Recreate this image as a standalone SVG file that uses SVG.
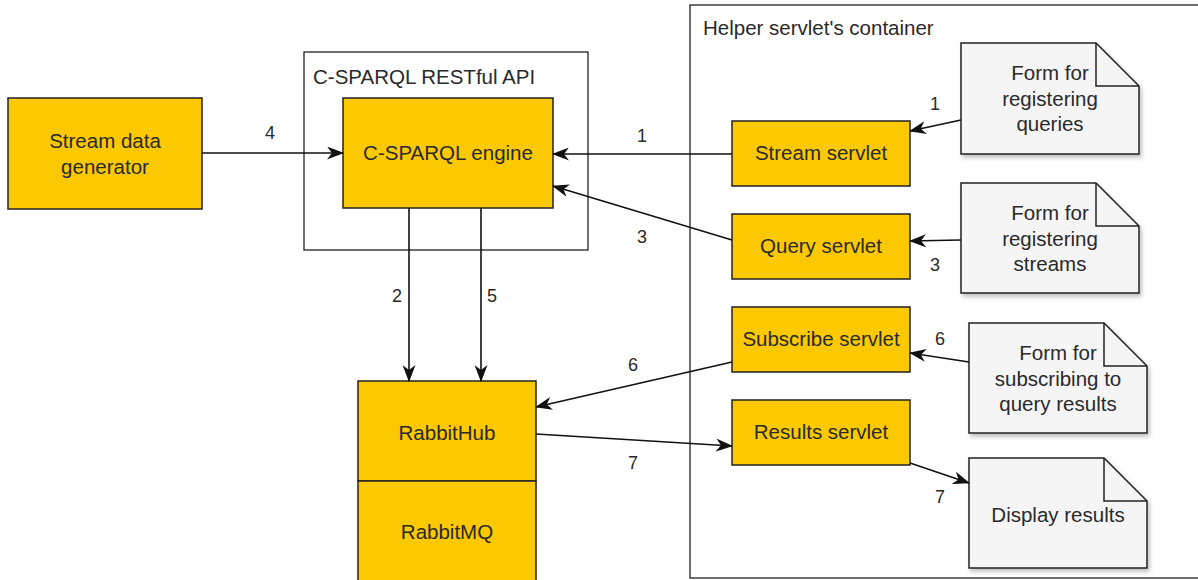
<svg xmlns="http://www.w3.org/2000/svg" width="1198" height="580" viewBox="0 0 1198 580">
<style>
  .box { fill: #fcc800; stroke: #222; stroke-width: 1.5; }
  .cont { fill: none; stroke: #222; stroke-width: 1.3; }
  .note { fill: #f5f5f5; stroke: #222; stroke-width: 1.5; }
  .fold { fill: none; stroke: #222; stroke-width: 1.5; }
  .t { font-family: "Liberation Sans", Arial, sans-serif; font-size: 20.5px; fill: #2a2a2a; text-anchor: middle; }
  .tl { font-family: "Liberation Sans", Arial, sans-serif; font-size: 20.5px; fill: #2a2a2a; }
  .lbl { font-family: "Liberation Sans", Arial, sans-serif; font-size: 18px; fill: #2a2a2a; text-anchor: middle; }
  .edge { fill: none; stroke: #111; stroke-width: 1.6; marker-end: url(#arr); }
</style>
<defs>
  <marker id="arr" viewBox="0 0 17 13" refX="16" refY="6.5" markerWidth="17" markerHeight="13" markerUnits="userSpaceOnUse" orient="auto">
    <path d="M0,0 L17,6.5 L0,13 L5,6.5 Z" fill="#111"/>
  </marker>
  <filter id="sh" x="-10%" y="-10%" width="130%" height="130%">
    <feDropShadow dx="2" dy="3" stdDeviation="2" flood-color="#000" flood-opacity="0.25"/>
  </filter>
</defs>
<rect width="1198" height="580" fill="#fff"/>

<g id="restful-api">
  <rect class="cont" x="304" y="52" width="284" height="198"/>
  <text class="tl" x="313" y="84">C-SPARQL RESTful API</text>
</g>
<g id="helper-container">
  <rect class="cont" x="690" y="5" width="520" height="573"/>
  <text class="tl" x="703" y="35">Helper servlet's container</text>
</g>

<g id="generator">
  <rect class="box" x="8" y="98" width="194" height="111"/>
  <text class="t" x="105" y="148">Stream data</text>
  <text class="t" x="105" y="174">generator</text>
</g>
<g id="engine">
  <rect class="box" x="343" y="98" width="210" height="110"/>
  <text class="t" x="448" y="160">C-SPARQL engine</text>
</g>
<g id="rabbithub">
  <rect class="box" x="358" y="381" width="178" height="100"/>
  <text class="t" x="447" y="440">RabbitHub</text>
</g>
<g id="rabbitmq">
  <rect class="box" x="358" y="481" width="178" height="102"/>
  <text class="t" x="447" y="539">RabbitMQ</text>
</g>

<g id="stream-servlet">
  <rect class="box" x="732" y="121" width="178" height="65"/>
  <text class="t" x="821" y="160">Stream servlet</text>
</g>
<g id="query-servlet">
  <rect class="box" x="732" y="214" width="178" height="65"/>
  <text class="t" x="821" y="253">Query servlet</text>
</g>
<g id="subscribe-servlet">
  <rect class="box" x="732" y="307" width="178" height="65"/>
  <text class="t" x="821" y="346">Subscribe servlet</text>
</g>
<g id="results-servlet">
  <rect class="box" x="732" y="400" width="178" height="65"/>
  <text class="t" x="821" y="439">Results servlet</text>
</g>

<g id="note-queries">
  <path class="note" filter="url(#sh)" d="M961,43 H1096 L1139,86 V154 H961 Z"/>
  <path class="fold" d="M1096,43 V86 H1139"/>
  <text class="t" x="1050" y="80">Form for</text>
  <text class="t" x="1050" y="106">registering</text>
  <text class="t" x="1050" y="131">queries</text>
</g>
<g id="note-streams">
  <path class="note" filter="url(#sh)" d="M961,183 H1096 L1139,226 V293 H961 Z"/>
  <path class="fold" d="M1096,183 V226 H1139"/>
  <text class="t" x="1050" y="220">Form for</text>
  <text class="t" x="1050" y="246">registering</text>
  <text class="t" x="1050" y="271">streams</text>
</g>
<g id="note-subscribe">
  <path class="note" filter="url(#sh)" d="M969,323 H1104 L1147,366 V433 H969 Z"/>
  <path class="fold" d="M1104,323 V366 H1147"/>
  <text class="t" x="1058" y="360">Form for</text>
  <text class="t" x="1058" y="386">subscribing to</text>
  <text class="t" x="1058" y="411">query results</text>
</g>
<g id="note-display">
  <path class="note" filter="url(#sh)" d="M969,458 H1104 L1147,501 V568 H969 Z"/>
  <path class="fold" d="M1104,458 V501 H1147"/>
  <text class="t" x="1058" y="522">Display results</text>
</g>

<g id="connectors">
  <line class="edge" x1="202" y1="153" x2="343" y2="153"/>
  <line class="edge" x1="732" y1="154" x2="553" y2="154"/>
  <line class="edge" x1="732" y1="240" x2="553" y2="186"/>
  <line class="edge" x1="409" y1="208" x2="409" y2="381"/>
  <line class="edge" x1="481" y1="208" x2="481" y2="381"/>
  <line class="edge" x1="732" y1="362" x2="536" y2="407"/>
  <line class="edge" x1="536" y1="434" x2="732" y2="446"/>
  <line class="edge" x1="961" y1="120" x2="910" y2="131"/>
  <line class="edge" x1="961" y1="240" x2="910" y2="241"/>
  <line class="edge" x1="969" y1="362" x2="910" y2="353"/>
  <line class="edge" x1="910" y1="463" x2="969" y2="483"/>
  <text class="lbl" x="270" y="139">4</text>
  <text class="lbl" x="642" y="142">1</text>
  <text class="lbl" x="642" y="243">3</text>
  <text class="lbl" x="397" y="302">2</text>
  <text class="lbl" x="492" y="302">5</text>
  <text class="lbl" x="633" y="371">6</text>
  <text class="lbl" x="633" y="469">7</text>
  <text class="lbl" x="935" y="110">1</text>
  <text class="lbl" x="935" y="271">3</text>
  <text class="lbl" x="940" y="345">6</text>
  <text class="lbl" x="940" y="503">7</text>
</g>
</svg>
